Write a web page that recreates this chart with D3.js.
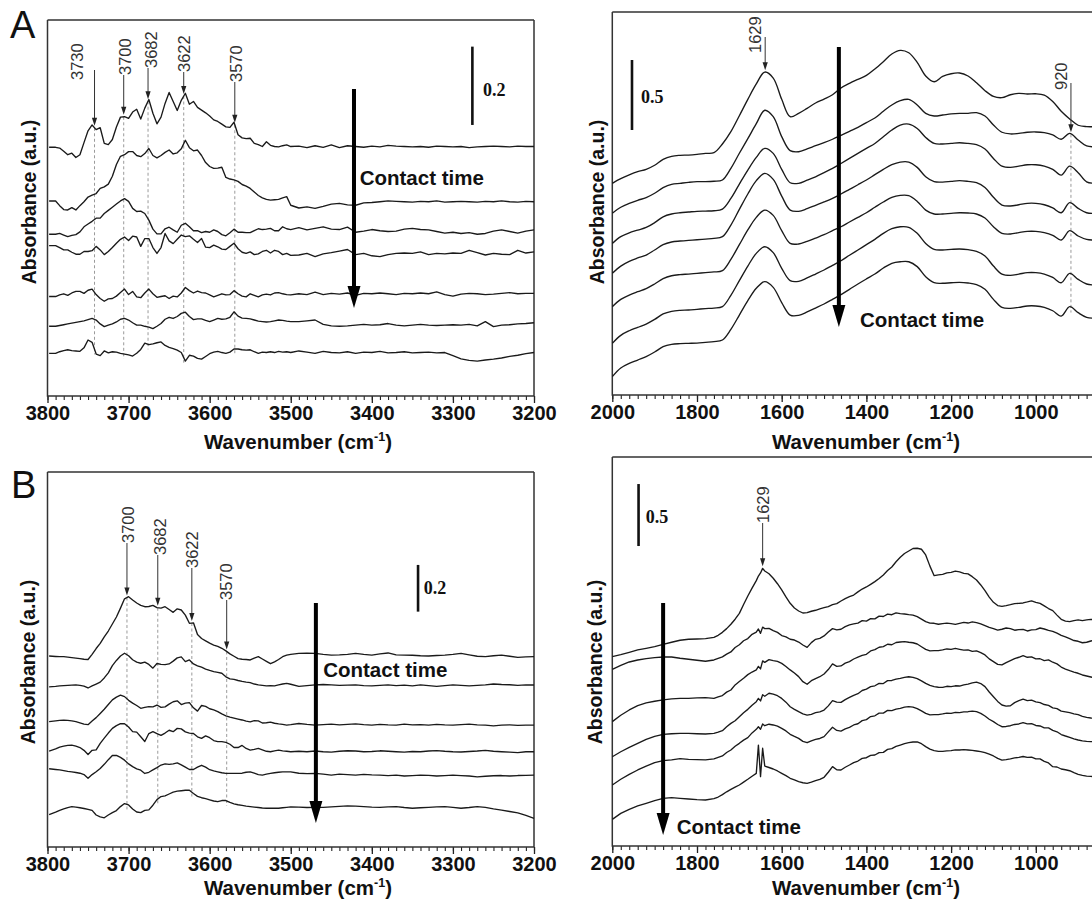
<!DOCTYPE html>
<html><head><meta charset="utf-8">
<script src="https://cdn.jsdelivr.net/npm/d3@7"></script>
<style>body{margin:0;background:#fff}svg{display:block}</style>
</head><body>
<svg id="chart" width="1092" height="904"></svg>
<script>
// ---------- categories (wavenumber grids, cm-1) ----------
const wnOH = [3798,3790,3785,3780,3775,3770,3765,3760,3755,3750,3745,3740,3735,3730,3725,3720,3715,3710,3705,3700,3695,3690,3685,3680,3675,3670,3665,3660,3655,3650,3645,3640,3635,3630,3625,3620,3615,3610,3605,3600,3595,3590,3585,3580,3575,3570,3565,3560,3555,3550,3545,3540,3535,3530,3525,3520,3515,3510,3505,3500,3490,3480,3470,3460,3450,3440,3430,3420,3410,3400,3390,3380,3370,3360,3350,3340,3330,3320,3310,3300,3290,3280,3270,3260,3250,3240,3230,3220,3210,3200];
const wnLowA = [2000,1980,1960,1940,1920,1900,1880,1860,1840,1820,1800,1780,1760,1740,1720,1700,1680,1660,1640,1620,1600,1580,1560,1540,1520,1500,1480,1460,1440,1420,1400,1380,1360,1340,1320,1300,1280,1260,1240,1220,1200,1180,1160,1140,1120,1100,1080,1060,1040,1020,1000,980,960,940,920,900,880,860];
const wnLowB = [2000,1980,1960,1940,1920,1900,1880,1860,1840,1820,1800,1780,
  1760,1750,1740,1730,1720,1710,1700,1690,1680,1670,1660,
  1655,1650,1645,1640,
  1630,1620,1610,1600,1590,1580,1570,1560,1550,1540,
  1530,1520,1510,1500,1490,1480,1470,1460,1450,1440,
  1430,1420,1410,1400,1390,1380,1370,1360,1350,1340,
  1330,1320,1310,1300,1290,1280,1270,1260,1250,1240,
  1230,1220,1210,1200,1190,1180,1170,1160,1150,1140,
  1130,1120,1110,1100,1090,1080,1070,1060,1050,1040,
  1030,1020,1010,1000,990,980,970,960,950,940,
  930,920,910,900,890,880,870,860];

// ---------- Panel A, OH region: relative absorbance (mAU) per contact time ----------
const aOH1 = [-2,-2,-4,-12,-21,-17,-28,-21,10,40,55,43,48,8,5,18,50,75,76,72,88,95,70,98,120,85,58,75,110,138,115,92,118,136,108,115,100,93,86,78,68,64,57,50,49,62,30,22,20,21,8,5,0,12,3,0,-1,2,4,0,1,-3,2,-2,4,-3,2,0,-2,1,-1,3,1,0,-1,0,-2,1,0,-1,0,-3,-1,0,1,0,-1,1,0,0];
const aOH2 = [2,2,-10,-20,-21,-15,-21,-10,0,12,17,21,34,38,45,65,95,116,120,128,128,118,115,123,136,118,112,118,126,132,122,125,135,157,138,130,132,118,100,90,85,86,88,62,58,56,52,44,40,34,25,16,10,6,4,5,6,10,13,-9,-16,-13,-17,-12,-6,-4,-8,-9,-3,-2,0,2,1,0,-1,1,0,2,-1,0,1,0,-1,1,0,2,0,-1,1,0];
const aOH3 = [-11,-11,-9,-13,-17,-14,-12,-5,8,15,22,30,30,42,50,58,66,74,80,73,55,47,48,42,25,2,-10,-10,3,7,0,-6,12,17,8,-2,-2,-7,-4,-6,0,-4,-12,-15,-7,2,-6,-6,-7,-7,-2,3,1,2,4,-2,-2,8,3,1,6,0,4,8,2,1,7,-6,-3,1,-2,-4,-3,2,4,1,0,-4,-8,-6,-9,-7,-11,-9,-3,0,-4,-8,-3,0];
const aOH4 = [20,20,15,9,9,3,-2,-2,5,5,7,18,9,-3,5,15,26,36,42,33,44,42,18,38,38,15,0,15,51,32,25,36,47,43,45,36,28,38,16,15,21,17,11,10,18,26,12,3,0,4,-3,-1,5,8,1,8,5,-3,0,-5,-4,0,-8,-1,2,6,10,-3,0,-6,-8,-3,0,1,0,4,-3,0,-1,1,0,8,2,-4,0,-2,-3,8,1,4];
const aOH5 = [-7,-7,-3,0,-4,2,6,6,1,9,12,-2,-12,-19,-13,-12,-6,3,12,-2,6,-8,-10,2,12,0,-9,-7,-5,-12,-6,-8,2,16,8,2,7,3,2,-3,-8,-4,0,-3,-2,8,0,-6,-8,0,-4,-8,-3,-1,-3,2,3,0,-2,-3,0,-2,4,-2,1,-1,2,-4,1,0,2,0,-2,1,0,2,0,5,-2,-6,-1,1,0,-2,-1,1,3,0,1,1];
const aOH6 = [-3,-3,-1,1,3,5,7,9,11,14,17,13,3,-4,0,3,8,15,17,13,6,0,0,-3,-5,-9,-3,4,15,20,17,22,30,33,22,14,16,16,12,9,13,17,15,16,20,34,23,18,17,16,13,10,9,8,9,11,13,12,10,9,9,11,13,2,-2,-3,-2,0,2,0,1,4,0,-2,0,2,0,-1,0,1,0,2,-2,9,-4,0,1,3,4,6];
const aOH7 = [-2,-2,2,5,7,5,4,3,12,32,26,-4,-8,4,-1,2,1,-2,-4,-6,-9,-2,8,24,20,22,25,27,18,13,10,6,0,-22,-7,-9,-15,-17,-10,-3,1,3,0,-2,1,9,9,7,6,7,2,-2,1,0,2,0,3,1,2,0,4,1,-2,3,0,-1,2,-2,1,0,3,-1,0,2,-1,0,1,-1,0,-8,-16,-20,-22,-19,-17,-14,-10,-7,-3,0];
const aOHOffsets = [0.637, 0.496, 0.424, 0.364, 0.261, 0.181, 0.111]; // a.u.

// ---------- Panel A, 2000-800 region (a.u., relative to 2000 cm-1) ----------
const aLow1 = [0,.033,.060,.083,.100,.129,.171,.193,.200,.202,.207,.214,.219,.281,.369,.483,.600,.710,.795,.752,.600,.476,.500,.536,.574,.602,.633,.681,.714,.743,.771,.817,.869,.924,.950,.933,.864,.767,.726,.764,.783,.788,.767,.719,.662,.621,.612,.633,.643,.638,.640,.630,.585,.515,.460,.415,.405,.405];
const aLow2 = [0,.043,.071,.093,.112,.143,.183,.207,.214,.221,.226,.226,.229,.238,.321,.429,.533,.640,.736,.690,.548,.448,.440,.460,.483,.505,.529,.557,.586,.614,.648,.681,.729,.774,.805,.814,.774,.714,.695,.702,.710,.714,.714,.719,.695,.631,.579,.567,.571,.579,.581,.576,.560,.529,.571,.524,.481,.476];
const aLow3 = [0,.048,.076,.095,.114,.148,.190,.210,.219,.224,.229,.231,.233,.245,.321,.424,.524,.614,.679,.643,.529,.433,.429,.452,.476,.505,.536,.571,.607,.643,.679,.714,.762,.810,.845,.852,.821,.757,.714,.710,.714,.719,.714,.705,.674,.607,.552,.543,.552,.562,.562,.552,.529,.488,.552,.505,.440,.429];
const aLow4 = [0,.052,.086,.110,.131,.167,.205,.224,.231,.236,.240,.245,.250,.262,.345,.457,.567,.662,.714,.671,.552,.452,.443,.462,.486,.510,.536,.567,.600,.633,.667,.705,.743,.776,.795,.795,.757,.690,.655,.652,.657,.662,.657,.648,.614,.543,.488,.481,.490,.500,.500,.490,.467,.433,.505,.464,.433,.429];
const aLow5 = [0,.052,.083,.107,.129,.162,.200,.221,.229,.233,.238,.243,.248,.257,.338,.443,.548,.638,.690,.652,.543,.452,.448,.467,.490,.514,.543,.571,.605,.638,.671,.710,.748,.781,.795,.793,.752,.690,.662,.662,.667,.671,.669,.662,.633,.571,.524,.519,.529,.538,.538,.529,.510,.476,.543,.505,.481,.476];
const aLow6 = [0,.057,.090,.114,.138,.171,.210,.229,.236,.238,.243,.248,.252,.262,.343,.448,.552,.643,.690,.648,.536,.448,.443,.467,.495,.524,.557,.590,.629,.667,.705,.743,.786,.819,.833,.829,.786,.714,.671,.667,.671,.674,.669,.657,.624,.552,.495,.486,.495,.505,.505,.495,.471,.433,.500,.457,.424,.417];
const aLow7 = [0,.062,.095,.119,.143,.176,.214,.231,.236,.238,.240,.245,.250,.262,.338,.440,.543,.631,.679,.638,.529,.440,.438,.462,.490,.519,.552,.586,.624,.662,.698,.733,.776,.810,.821,.821,.786,.714,.671,.667,.671,.674,.669,.657,.624,.552,.495,.488,.495,.505,.505,.495,.471,.433,.500,.457,.424,.417];
const aLowOffsets = [1.512, 1.298, 1.083, 0.869, 0.631, 0.369, 0.131];

// ---------- Panel B, OH region (mAU) ----------
const bOH1 = [3,1,0,0,-2,-4,-6,-8,-11,-12,10,35,57,85,110,140,170,208,248,257,243,230,220,214,215,220,210,208,214,202,190,205,200,178,143,145,95,78,68,58,50,44,36,25,12,2,-8,-11,-12,-14,-6,0,-10,-20,-30,-22,-12,0,7,10,14,15,14,10,7,8,10,14,10,7,12,16,8,7,6,4,3,5,7,10,14,8,2,0,4,7,2,-3,-1,0];
const bOH2 = [-8,-6,-4,-3,-2,-1,0,-2,-5,-13,-4,4,12,30,52,83,105,124,136,125,108,98,93,98,88,72,92,88,87,90,102,116,120,100,107,90,82,76,68,62,57,54,50,35,26,24,19,15,12,10,4,0,-2,-4,-3,-4,0,4,7,3,-6,-3,0,2,0,-2,-1,0,-3,-4,-2,0,-3,-1,-4,0,-3,-6,-3,0,-2,-4,-2,0,4,2,1,-2,0,0];
const bOH3 = [15,18,20,21,20,18,15,10,4,2,18,32,50,68,88,108,120,128,122,106,94,84,72,76,79,78,86,76,78,90,100,104,88,94,96,74,60,84,80,70,65,58,48,40,34,30,26,22,17,14,19,18,9,10,13,8,5,3,0,2,7,3,0,2,4,1,3,5,2,0,3,1,0,4,1,2,0,3,1,0,2,4,1,0,-3,0,1,-1,0,0];
const bOH4 = [3,12,20,24,27,28,24,18,6,-12,6,8,36,58,80,100,112,120,120,106,86,84,64,44,78,86,78,70,80,92,86,100,98,85,80,78,64,57,68,60,48,43,43,40,32,18,18,27,14,7,10,14,8,2,0,4,7,4,2,0,2,0,3,0,-2,2,4,3,0,1,4,2,0,-2,1,0,3,5,2,0,-1,1,3,6,2,0,-2,-4,0,0];
const bOH5 = [27,24,22,19,16,14,11,8,2,-14,2,14,28,46,66,84,84,76,64,48,36,27,21,7,12,22,32,43,48,46,48,52,44,34,24,24,34,42,34,23,18,14,10,7,7,7,7,8,12,14,8,2,0,4,7,10,12,14,14,14,8,6,7,4,0,4,2,0,3,1,0,-2,0,-4,-2,0,-1,-4,-2,0,-2,-4,-8,-5,-3,-2,-4,-2,-1,0];
const bOH6 = [16,26,34,40,46,50,48,45,42,38,34,14,6,2,14,24,33,50,63,57,40,27,24,34,36,56,80,93,96,104,112,116,118,120,120,106,94,88,84,79,74,71,76,76,68,62,58,55,52,50,48,46,44,43,43,43,43,45,47,49,48,46,47,47,49,51,53,52,50,48,47,49,50,46,43,45,47,49,50,47,43,46,50,47,40,35,29,23,12,0];
const bOHOffsets = [0.815, 0.694, 0.522, 0.408, 0.308, 0.123];

// ---------- Panel B, 2000-800 region (a.u., relative to 2000 cm-1) ----------
const bLow1 = [0,.016,.035,.054,.067,.081,.099,.116,.132,.140,.142,.145,
  .156,.172,.196,.226,.261,.302,.349,.420,.489,.552,.613,
  .650,.675,.712,.691,
  .668,.632,.588,.538,.482,.430,.392,.368,.352,.355,
  .366,.374,.386,.395,.404,.419,.428,.449,.468,.484,
  .497,.522,.545,.562,.583,.605,.630,.659,.694,.723,
  .765,.801,.832,.852,.872,.874,.866,.820,.730,.653,
  .660,.664,.676,.680,.690,.683,.672,.667,.645,.618,
  .578,.532,.480,.438,.412,.406,.412,.419,.428,.430,
  .433,.441,.450,.438,.430,.409,.388,.371,.335,.301,
  .287,.282,.291,.296,.290,.296,.301,.296];
const bLow2 = [0,.032,.059,.075,.086,.094,.099,.099,.089,.081,.073,.065,
  .075,.088,.100,.122,.140,.176,.198,.230,.248,.282,.300,
  .325,.290,.340,.328,
  .330,.312,.298,.272,.262,.242,.236,.220,.196,.177,
  .215,.242,.250,.269,.300,.328,.318,.323,.344,.358,
  .366,.372,.392,.388,.408,.407,.429,.426,.445,.440,
  .455,.449,.446,.441,.437,.425,.405,.384,.372,.371,
  .363,.368,.372,.368,.362,.370,.378,.373,.382,.376,
  .366,.352,.338,.328,.316,.323,.333,.328,.315,.320,
  .322,.309,.318,.320,.333,.325,.314,.306,.292,.274,
  .262,.247,.232,.226,.214,.218,.228,.237];
const bLow3 = [0,.051,.094,.129,.151,.164,.175,.183,.188,.188,.191,.194,
  .188,.200,.210,.238,.255,.296,.323,.350,.379,.400,.417,
  .445,.425,.490,.478,
  .500,.492,.486,.470,.445,.417,.392,.363,.322,.301,
  .330,.347,.362,.384,.420,.465,.446,.449,.472,.484,
  .505,.520,.534,.543,.570,.580,.600,.605,.624,.620,
  .638,.642,.645,.640,.636,.626,.604,.583,.570,.573,
  .572,.578,.586,.583,.590,.583,.576,.578,.566,.570,
  .556,.538,.506,.484,.462,.457,.476,.492,.508,.519,
  .532,.519,.522,.506,.507,.492,.498,.479,.466,.440,
  .424,.411,.400,.390,.376,.368,.360,.352];
const bLow4 = [0,.040,.075,.108,.140,.164,.180,.185,.188,.188,.185,.183,
  .188,.198,.210,.242,.269,.290,.323,.355,.382,.415,.444,
  .470,.450,.500,.488,
  .512,.505,.492,.470,.440,.403,.382,.363,.345,.336,
  .342,.355,.362,.376,.410,.452,.440,.438,.460,.478,
  .495,.508,.534,.545,.565,.572,.592,.590,.614,.615,
  .626,.632,.640,.645,.640,.629,.612,.591,.575,.565,
  .560,.559,.568,.565,.572,.570,.580,.586,.596,.602,
  .590,.565,.522,.484,.446,.417,.408,.411,.436,.452,
  .464,.452,.456,.442,.436,.421,.414,.394,.388,.368,
  .362,.355,.346,.339,.326,.317,.312,.309];
const bLow5 = [0,.046,.086,.121,.153,.180,.196,.202,.212,.207,.204,.202,
  .210,.222,.234,.262,.282,.312,.336,.362,.382,.420,.449,
  .470,.450,.492,.478,
  .490,.484,.475,.457,.436,.409,.392,.376,.352,.341,
  .356,.368,.375,.390,.428,.465,.440,.435,.452,.465,
  .484,.494,.519,.527,.552,.558,.579,.580,.602,.600,
  .612,.618,.628,.632,.628,.616,.598,.578,.566,.567,
  .568,.573,.580,.578,.586,.583,.590,.591,.596,.591,
  .578,.556,.530,.511,.488,.470,.472,.478,.488,.492,
  .503,.493,.494,.480,.476,.461,.460,.440,.429,.407,
  .395,.384,.372,.363,.356,.352,.350,.349];
const bLow6 = [0,.048,.081,.108,.129,.151,.169,.175,.169,.164,.159,.156,
  .167,.180,.199,.222,.242,.260,.277,.300,.323,.348,.371,
  .599,.344,.573,.430,
  .418,.406,.390,.371,.352,.331,.318,.304,.295,.290,
  .300,.312,.322,.339,.380,.425,.400,.398,.420,.438,
  .458,.470,.492,.497,.516,.519,.538,.540,.564,.570,
  .588,.599,.610,.618,.624,.624,.610,.586,.566,.554,
  .548,.548,.552,.554,.560,.559,.562,.559,.556,.551,
  .546,.538,.525,.511,.492,.478,.482,.487,.495,.500,
  .507,.500,.502,.488,.488,.468,.455,.425,.422,.406,
  .400,.392,.376,.363,.355,.349,.346,.344];
const bLowOffsets = [1.527, 1.425, 1.003, 0.720, 0.492, 0.215];

// ---------- peak annotations & tick labels ----------
const peaksAOH = [3742, 3706, 3676, 3632, 3569];
const peakLabelsAOH = ["3730", "3700", "3682", "3622", "3570"];
const peaksALow = [1639, 917];
const peakLabelsALow = ["1629", "920"];
const peaksBOH = [3702, 3664, 3622, 3579];
const peakLabelsBOH = ["3700", "3682", "3622", "3570"];
const peaksBLow = [1645];
const peakLabelsBLow = ["1629"];
const ticksOH = [3800, 3700, 3600, 3500, 3400, 3300, 3200];
const ticksLow = [2000, 1800, 1600, 1400, 1200, 1000];

// ---------- drawing ----------
const SANS = "'Liberation Sans', Arial, Helvetica, sans-serif";
const SERIF = "'Liberation Serif', 'Times New Roman', serif";
const svg = d3.select("#chart");

function drawPanel(p) {
  const g = svg.append("g");
  const [L, R] = p.x.range();
  const [B, T] = p.y.range();
  const traceVal = (k) => d3.scaleLinear().domain(p.grid).range(p.traces[k].map(v => p.offsets[k] + v * p.unit)).clamp(true);

  // minor + major ticks
  const minor = d3.axisBottom(p.x).tickValues(p.minor).tickSize(4).tickFormat("");
  const major = d3.axisBottom(p.x).tickValues(p.major).tickSize(7).tickPadding(3).tickFormat(d3.format("d"));
  const ga = g.append("g").attr("transform", `translate(0,${B})`).call(minor);
  ga.select(".domain").remove();
  ga.selectAll("line").attr("stroke", "#222").attr("stroke-width", 1.1);
  const gb = g.append("g").attr("transform", `translate(0,${B})`).call(major);
  gb.select(".domain").remove();
  gb.selectAll("line").attr("stroke", "#222").attr("stroke-width", 1.3);
  gb.selectAll("text").attr("font-family", SANS).attr("font-size", 20).attr("font-weight", "bold").attr("fill", "#111");

  // frame
  const fr = p.frameRight ? `M${R},${T}V${B}` : "";
  g.append("path").attr("d", `M${L},${T}V${B}H${R}M${L},${T}H${R}` + fr)
    .attr("fill", "none").attr("stroke", "#333").attr("stroke-width", 1.5);

  // dashed guides
  p.peaks.forEach((wn, i) => {
    if (!p.dashed[i]) return;
    const [ka, kb] = p.dashed[i];
    g.append("line").attr("x1", p.x(wn)).attr("x2", p.x(wn))
      .attr("y1", p.y(traceVal(ka)(wn))).attr("y2", p.y(traceVal(kb)(wn)) + 5)
      .attr("stroke", "#9a9a9a").attr("stroke-width", 1).attr("stroke-dasharray", "3,2.5");
  });

  // spectra
  const line = d3.line().x(d => p.x(d[0])).y(d => p.y(d[1])).curve(p.curve);
  p.traces.forEach((tr, k) => {
    const pts = p.grid.map((wn, i) => [wn, p.offsets[k] + tr[i] * p.unit]).filter(d => !isNaN(d[1]));
    g.append("path").attr("d", line(pts)).attr("fill", "none")
      .attr("stroke", "#1a1a1a").attr("stroke-width", 1.35).attr("stroke-linejoin", "round");
  });

  // peak arrows and labels
  p.peaks.forEach((wn, i) => {
    const x = p.x(wn);
    const tip = p.y(traceVal(p.arrowTrace[i])(wn)) - 2;
    g.append("line").attr("x1", x).attr("x2", x).attr("y1", p.lineTop[i]).attr("y2", tip - 7)
      .attr("stroke", "#333").attr("stroke-width", 1);
    g.append("path").attr("d", `M${x},${tip}L${x - 2.6},${tip - 8}L${x + 2.6},${tip - 8}Z`).attr("fill", "#222");
    g.append("text").attr("transform", `translate(${x + p.labelDx[i]},${p.textBottom[i]}) rotate(-90)`)
      .attr("dy", "0.35em").attr("text-anchor", "start")
      .attr("font-family", SANS).attr("font-size", 16.5).attr("fill", "#333").text(p.peakLabels[i]);
  });

  // scale bar
  const s = p.scale;
  g.append("line").attr("x1", p.x(s.wn)).attr("x2", p.x(s.wn)).attr("y1", p.y(s.v0)).attr("y2", p.y(s.v0 + s.len))
    .attr("stroke", "#111").attr("stroke-width", 2.6);
  g.append("text").attr("x", p.x(s.labelWn)).attr("y", p.y(s.labelY)).attr("font-family", SERIF)
    .attr("font-weight", "bold").attr("font-size", 18).attr("fill", "#111").text(s.label);

  // contact time arrow
  const c = p.contact;
  const cx = p.x(c.wn), ct = p.y(c.top), cb = p.y(c.tip);
  g.append("line").attr("x1", cx).attr("x2", cx).attr("y1", ct).attr("y2", cb - 18)
    .attr("stroke", "#000").attr("stroke-width", 4);
  g.append("path").attr("d", `M${cx - 6.5},${cb - 22}L${cx + 6.5},${cb - 22}L${cx},${cb}Z`).attr("fill", "#000");
  g.append("text").attr("x", p.x(c.textWn)).attr("y", p.y(c.textY)).attr("font-family", SANS)
    .attr("font-weight", "bold").attr("font-size", 20.5).attr("fill", "#111").text("Contact time");

  // axis titles
  const t = g.append("text").attr("x", p.titleX).attr("y", p.titleY).attr("text-anchor", "middle")
    .attr("font-family", SANS).attr("font-weight", "bold").attr("font-size", 20.5).attr("fill", "#111");
  t.append("tspan").text("Wavenumber (cm");
  t.append("tspan").attr("dy", -8).attr("font-size", 12.5).text("-1");
  t.append("tspan").attr("dy", 8).text(")");
  g.append("text").attr("transform", `translate(${p.yTitleX},${p.yTitleY}) rotate(-90)`)
    .attr("dy", "0.35em").attr("text-anchor", "middle").attr("font-family", SANS)
    .attr("font-weight", "bold").attr("font-size", 19.5).attr("fill", "#111").text("Absorbance (a.u.)");
}

const xOH = d3.scaleLinear().domain([3800, 3200]).range([47.5, 534]);
const xLow = d3.scaleLinear().domain([2000, 800]).range([612.3, 1120.5]);
const minorOH = d3.range(3800, 3199, -10);
const minorLow = d3.range(2000, 799, -20);

// Panel A left
drawPanel({
  x: xOH, y: d3.scaleLinear().domain([0, 0.960]).range([396, 20]),
  grid: wnOH, traces: [aOH1, aOH2, aOH3, aOH4, aOH5, aOH6, aOH7], offsets: aOHOffsets, unit: 0.001,
  curve: d3.curveLinear, major: ticksOH, minor: minorOH, frameRight: true,
  peaks: peaksAOH, peakLabels: peakLabelsAOH, arrowTrace: [0, 0, 0, 0, 0],
  dashed: [[0, 6], [0, 6], [0, 6], [0, 6], [0, 6]],
  lineTop: [70, 75, 68, 72, 82], textBottom: [80, 75, 68, 72, 82], labelDx: [-17, 2, 3, 0, 1],
  scale: { wn: 3276, v0: 0.692, len: 0.2, labelWn: 3263, labelY: 0.766, label: "0.2" },
  contact: { wn: 3422, top: 0.784, tip: 0.225, textWn: 3415, textY: 0.539 },
  titleX: 298, titleY: 449, yTitleX: 29, yTitleY: 202
});
// Panel A right
drawPanel({
  x: xLow, y: d3.scaleLinear().domain([0, 2.736]).range([395, 12]),
  grid: wnLowA, traces: [aLow1, aLow2, aLow3, aLow4, aLow5, aLow6, aLow7], offsets: aLowOffsets, unit: 1,
  curve: d3.curveCatmullRom.alpha(0.5), major: ticksLow, minor: minorLow, frameRight: false,
  peaks: peaksALow, peakLabels: peakLabelsALow, arrowTrace: [0, 1],
  dashed: [null, [1, 6]],
  lineTop: [37, 83], textBottom: [53, 90], labelDx: [-10, -10],
  scale: { wn: 1953.5, v0: 1.893, len: 0.5, labelWn: 1932, labelY: 2.086, label: "0.5" },
  contact: { wn: 1465, top: 2.486, tip: 0.486, textWn: 1415, textY: 0.486 },
  titleX: 866, titleY: 449, yTitleX: 597, yTitleY: 202
});
// Panel B left
drawPanel({
  x: xOH, y: d3.scaleLinear().domain([0, 1.606]).range([847, 472]),
  grid: wnOH, traces: [bOH1, bOH2, bOH3, bOH4, bOH5, bOH6], offsets: bOHOffsets, unit: 0.001,
  curve: d3.curveLinear, major: ticksOH, minor: minorOH, frameRight: true,
  peaks: peaksBOH, peakLabels: peakLabelsBOH, arrowTrace: [0, 0, 0, 0],
  dashed: [[0, 5], [0, 5], [0, 5], [0, 5]],
  lineTop: [543, 555, 568, 600], textBottom: [543, 555, 568, 600], labelDx: [1, 2, 0, 0],
  scale: { wn: 3343, v0: 1.008, len: 0.2, labelWn: 3336, labelY: 1.083, label: "0.2" },
  contact: { wn: 3469, top: 1.045, tip: 0.103, textWn: 3460, textY: 0.728 },
  titleX: 298, titleY: 895, yTitleX: 28, yTitleY: 662
});
// Panel B right
drawPanel({
  x: xLow, y: d3.scaleLinear().domain([0, 3.137]).range([846, 457]),
  grid: wnLowB, traces: [bLow1, bLow2, bLow3, bLow4, bLow5, bLow6], offsets: bLowOffsets, unit: 1,
  curve: d3.curveLinear, major: ticksLow, minor: minorLow, frameRight: false,
  peaks: peaksBLow, peakLabels: peakLabelsBLow, arrowTrace: [0],
  dashed: [null],
  lineTop: [523], textBottom: [523], labelDx: [1],
  scale: { wn: 1938, v0: 2.419, len: 0.5, labelWn: 1921, labelY: 2.605, label: "0.5" },
  contact: { wn: 1880, top: 1.960, tip: 0.089, textWn: 1848, textY: 0.097 },
  titleX: 866, titleY: 895, yTitleX: 595, yTitleY: 662
});

// panel letters
svg.append("text").attr("x", 10).attr("y", 38).attr("font-family", SANS).attr("font-size", 38).attr("fill", "#111").text("A");
svg.append("text").attr("x", 11).attr("y", 498).attr("font-family", SANS).attr("font-size", 38).attr("fill", "#111").text("B");
</script>
</body></html>
